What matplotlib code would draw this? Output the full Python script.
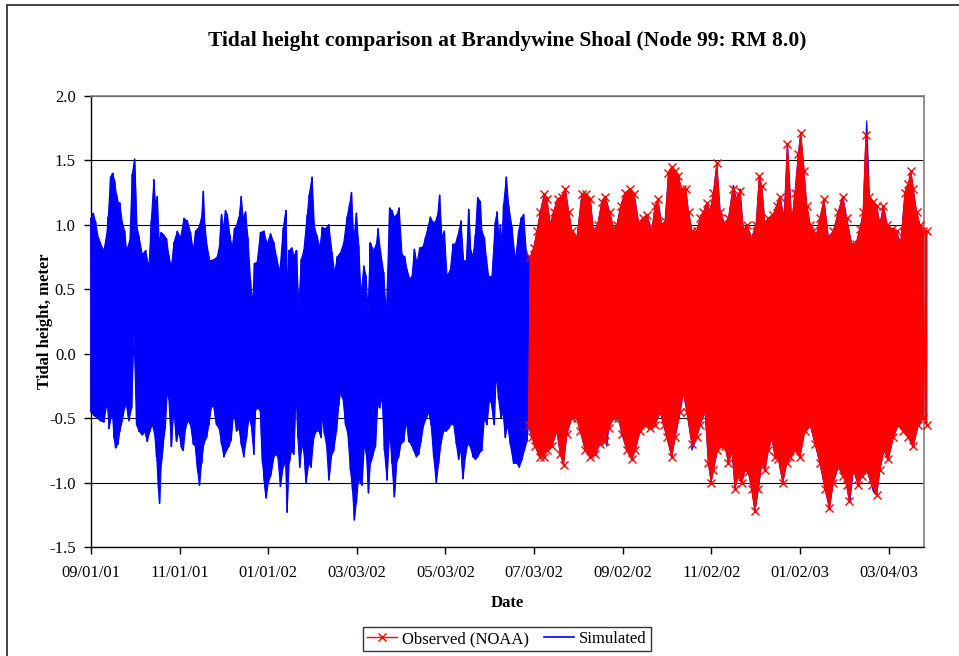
import pandas as pd
import matplotlib.pyplot as plt
from matplotlib.patches import Rectangle

plt.rcParams['font.family'] = ['Liberation Serif', 'DejaVu Serif']

start = pd.Timestamp('2001-09-01')

# simulated, 09/01/01 - end of June 2002 (day offsets from 09/01/01)
sim_high_day = [0.0, 1.6, 3.2, 5.0, 6.6, 8.9, 10.8, 11.9, 13.5, 14.9, 16.3, 17.4, 18.6, 19.9, 21.5, 23.2,
                24.5, 26.8, 28.4, 30.0, 31.4, 33.0, 35.3, 37.6, 39.9, 41.5, 43.3, 44.5, 45.6, 47.0, 48.4,
                50.2, 52.0, 53.6, 55.3, 57.1, 59.4, 61.7, 64.0, 66.3, 68.5, 70.4, 72.0, 74.3, 76.1, 77.3,
                78.4, 80.0, 81.8, 84.6, 86.9, 88.7, 89.9, 91.0, 92.6, 93.8, 95.6, 97.2, 98.8, 100.6, 102.0,
                103.4, 104.8, 106.4, 108.0, 109.8, 111.2, 112.6, 114.4, 116.7, 119.0, 121.3, 123.6, 125.9,
                127.7, 130.0, 132.3, 134.1, 135.0, 136.4, 138.2, 139.6, 141.4, 143.1, 144.7, 146.5, 148.8,
                150.2, 152.2, 153.8, 155.7, 157.5, 159.3, 161.4, 163.7, 166.0, 167.8, 169.4, 171.7, 174.0,
                176.3, 177.9, 179.3, 180.9, 182.7, 184.3, 185.9, 187.8, 189.4, 190.7, 192.3, 194.6, 196.5,
                197.6, 199.2, 201.5, 203.3, 205.6, 207.2, 208.8, 210.7, 212.1, 214.1, 216.0, 217.6, 219.4,
                221.0, 222.6, 224.4, 226.3, 228.6, 230.2, 232.0, 233.6, 235.4, 237.0, 238.7, 240.0, 241.6,
                243.2, 245.1, 247.4, 249.2, 250.8, 252.4, 254.7, 256.5, 258.4, 260.0, 261.1, 263.0, 264.6,
                266.2, 268.0, 269.1, 270.8, 272.1, 273.7, 276.0, 278.3, 279.5, 280.6, 281.8, 282.9, 284.0,
                285.9, 287.5, 289.8, 292.1, 294.4, 296.0, 297.8, 299.6, 301.2]
sim_high = [1.05, 1.09, 1.02, 0.90, 0.85, 0.80, 0.92, 1.06, 1.37, 1.40, 1.34, 1.24, 1.17, 1.17, 1.02, 0.95,
            0.80, 0.88, 1.39, 1.51, 1.00, 0.91, 0.77, 0.80, 0.67, 1.03, 1.35, 1.15, 1.22, 0.86, 0.94,
            0.92, 0.89, 0.76, 0.67, 0.86, 0.95, 0.90, 1.05, 1.03, 0.94, 0.80, 0.95, 0.98, 1.05, 1.26,
            1.00, 0.83, 0.72, 0.73, 0.75, 0.85, 1.08, 0.96, 1.11, 1.08, 0.92, 0.82, 0.97, 1.00, 1.06,
            1.22, 1.05, 1.10, 0.90, 0.57, 0.38, 0.70, 0.71, 0.94, 0.95, 0.85, 0.93, 0.86,
            0.75, 0.63, 0.97, 1.11, 0.48, 0.80, 0.82, 0.75, 0.80, 0.36, 0.73, 0.80, 1.07,
            1.23, 1.37, 0.98, 0.91, 0.82, 0.98, 0.97, 1.00, 0.78, 0.62, 0.75, 0.78, 0.86,
            1.06, 1.15, 1.25, 0.88, 1.09, 0.84, 0.45, 0.68, 0.60, 0.32, 0.86, 0.80, 0.85,
            0.97, 0.80, 0.63, 0.30, 1.13, 1.11, 1.06, 1.08, 1.13, 0.77, 0.75, 0.65, 0.58,
            0.60, 0.81, 0.70, 0.82, 0.83, 0.90, 0.98, 1.06, 1.02, 1.02, 1.08, 1.23, 0.90,
            0.95, 0.60, 0.65, 0.85, 0.85, 0.91, 1.03, 0.72, 0.72, 1.12, 0.82, 0.75, 0.92,
            1.21, 1.18, 0.95, 0.90, 0.75, 0.60, 0.60, 1.02, 1.10, 0.85, 1.00, 0.85, 1.15,
            1.37, 1.15, 0.98, 0.72, 0.95, 1.05, 1.08, 0.80, 0.75]
sim_low_day = [0.0, 2.1, 4.4, 6.6, 8.9, 11.2, 12.4, 14.7, 15.8, 17.0, 18.6, 19.9, 21.5, 23.2, 24.5, 26.1,
               28.0, 29.6, 31.4, 33.0, 35.3, 36.9, 38.7, 40.6, 42.2, 43.8, 45.2, 46.5, 47.2, 48.4, 49.7,
               51.1, 52.5, 53.6, 55.3, 56.6, 57.5, 58.9, 60.5, 62.1, 63.5, 65.1, 66.7, 68.5, 70.4, 72.0,
               73.6, 74.7, 76.1, 77.7, 79.6, 81.2, 82.8, 84.6, 86.4, 88.3, 89.9, 91.5, 93.3, 94.9, 96.5,
               98.3, 100.2, 102.0, 103.4, 105.2, 107.1, 108.7, 110.3, 112.1, 113.3, 114.9, 116.7, 118.1,
               119.0, 120.6, 122.0, 123.6, 125.4, 127.0, 128.6, 130.4, 132.3, 133.9, 135.0, 136.4, 137.8,
               139.6, 141.0, 142.4, 143.7, 145.3, 146.9, 148.1, 149.9, 151.5, 153.4, 155.2, 156.8, 158.4,
               159.6, 160.7, 162.1, 163.7, 165.3, 167.1, 169.0, 170.6, 171.7, 173.5, 175.2, 176.8, 178.6,
               180.0, 181.3, 182.7, 184.3, 185.5, 186.6, 188.2, 189.6, 191.0, 192.3, 194.2, 195.8, 197.4,
               198.8, 200.4, 202.0, 203.8, 205.6, 207.2, 208.8, 210.2, 211.8, 213.4, 215.3, 217.1, 218.7,
               220.3, 222.1, 224.0, 225.6, 227.2, 229.0, 230.9, 232.5, 234.1, 235.9, 237.7, 239.3, 240.9,
               242.8, 244.6, 246.2, 247.8, 249.7, 251.5, 253.1, 254.7, 256.1, 257.7, 259.3, 261.1, 263.0,
               264.6, 266.2, 268.0, 269.1, 270.8, 272.6, 274.4, 276.0, 277.6, 279.0, 280.6, 282.2, 283.6,
               285.2, 286.8, 288.6, 290.9, 293.2, 294.8, 296.7, 298.3, 300.1]
sim_low = [-0.45, -0.48, -0.50, -0.52, -0.53, -0.37, -0.58, -0.45, -0.65, -0.73, -0.70, -0.60, -0.52, -0.42,
           -0.38, -0.52, -0.42, 0.15, -0.55, -0.60, -0.63, -0.60, -0.68, -0.60, -0.55, -0.62, -0.80, -1.05,
           -1.16, -0.85, -0.70, -0.58, -0.30, -0.35, -0.72, -0.45, -0.45, -0.68, -0.60, -0.72, -0.75, -0.58,
           -0.52, -0.55, -0.70, -0.72, -0.92, -1.02, -0.85, -0.70, -0.65, -0.55, -0.42, -0.40, -0.55, -0.58,
           -0.70, -0.80, -0.75, -0.72, -0.67, -0.45, -0.60, -0.58, -0.70, -0.80, -0.65, -0.50, -0.55, -0.78,
           -0.44, -0.42, -0.45, -0.85, -0.95, -1.12, -1.00, -0.95, -0.82, -0.78, -0.80, -1.03, -0.88, -0.82,
           -1.23, -0.85, -0.75, -0.78, -0.25, -0.65, -0.88, -0.70, -0.78, -1.00, -0.85, -0.88, -0.65, -0.60,
           -0.60, -0.65, -0.45, -0.62, -0.70, -0.98, -0.80, -0.75, -0.60, -0.40, -0.30, -0.35, -0.55, -0.62,
           -0.90, -1.05, -1.29, -1.15, -0.95, -1.00, -1.02, -0.70, -0.78, -1.08, -0.85, -0.78, -0.72, -0.40,
           -0.42, -0.33, -0.75, -0.98, -0.60, -0.85, -1.11, -0.85, -0.80, -0.70, -0.68, -0.52, -0.68, -0.70,
           -0.75, -0.80, -0.78, -0.68, -0.55, -0.50, -0.45, -0.55, -0.80, -1.00, -0.85, -0.70, -0.60, -0.60,
           -0.58, -0.55, -0.55, -0.70, -0.82, -0.72, -0.97, -0.80, -0.70, -0.72, -0.80, -0.82, -0.80, -0.76,
           -0.75, -0.50, -0.55, -0.35, -0.40, -0.55, -0.15, -0.35, -0.50, -0.45, -0.65, -0.55, -0.70, -0.85,
           -0.85, -0.88, -0.82, -0.75, -0.68]

# observed (NOAA), from end of June 2002
obs_high_day = [302.4, 304.7, 307.0, 309.3, 312.0, 313.9, 316.1, 318.4, 321.2, 324.2, 326.5, 328.8, 331.0,
                334.5, 337.9, 340.9, 343.7, 345.9, 348.7, 351.7, 354.0, 357.0, 359.7, 362.0, 364.7, 367.7,
                371.2, 373.9, 376.9, 380.3, 382.6, 386.1, 388.4, 390.2, 392.9, 395.2, 397.5, 399.8, 402.1,
                404.4, 406.7, 409.4, 411.3, 413.6, 417.0, 419.3, 421.6, 423.9, 426.2, 428.5, 430.8, 433.1,
                436.5, 438.8, 441.8, 444.1, 446.8, 449.1, 451.4, 454.8, 457.8, 460.1, 461.7, 464.0, 466.3,
                469.7, 472.0, 474.3, 477.1, 479.4, 482.4, 484.6, 486.9, 488.5, 490.8, 492.7, 495.0, 497.3,
                499.5, 501.8, 504.6, 507.6, 511.0, 514.4, 517.4, 520.2, 523.6, 526.6, 529.3, 531.6, 533.5,
                535.8, 538.5, 540.8, 543.1, 545.4, 548.1, 551.1, 554.6, 557.3, 560.3, 562.6, 564.2, 566.0,
                568.3, 570.6, 572.9, 575.2]
obs_high = [0.75, 0.82, 0.95, 1.10, 1.24, 1.20, 1.00, 1.10, 1.20, 1.22, 1.28, 1.10, 0.95,
            0.90, 1.24, 1.24, 1.20, 0.95, 1.00, 1.18, 1.22, 1.10, 0.97, 1.00, 1.15, 1.25,
            1.28, 1.24, 1.02, 1.05, 1.08, 0.95, 1.15, 1.20, 1.00, 1.03, 1.40, 1.45, 1.42,
            1.38, 1.28, 1.28, 1.10, 0.95, 0.95, 1.05, 1.10, 1.17, 1.10, 1.25, 1.48, 1.10,
            1.00, 1.05, 1.28, 1.20, 1.26, 0.95, 1.00, 0.90, 1.00, 1.38, 1.30, 1.00, 1.05,
            1.08, 1.15, 1.22, 1.05, 1.63, 1.00, 1.25, 1.55, 1.71, 1.42, 1.15, 1.00, 0.95,
            0.92, 1.05, 1.20, 0.90, 0.95, 1.10, 1.22, 1.05, 0.85, 0.85, 0.97, 1.10, 1.70,
            1.22, 1.18, 1.15, 1.00, 1.15, 1.00, 0.97, 0.95, 0.85, 1.25, 1.32, 1.42, 1.28,
            1.10, 1.00, 0.95, 0.95]
obs_low_day = [301.2, 303.5, 305.8, 308.8, 311.6, 313.9, 317.3, 320.7, 323.0, 325.3, 327.6, 331.0, 334.5,
               336.8, 340.2, 343.7, 347.1, 350.5, 354.0, 356.3, 359.7, 363.1, 365.4, 368.9, 372.3, 374.6,
               378.0, 381.5, 384.9, 388.4, 391.8, 394.1, 396.4, 399.8, 402.1, 405.6, 407.8, 410.1, 413.6,
               417.0, 419.3, 422.7, 425.0, 426.9, 428.5, 431.2, 433.5, 436.5, 438.8, 441.1, 443.4, 445.7,
               448.0, 450.3, 452.5, 454.8, 457.1, 459.4, 461.7, 464.0, 466.3, 468.6, 470.9, 473.2, 476.2,
               478.9, 481.2, 484.6, 488.1, 491.5, 495.0, 498.4, 501.8, 505.3, 508.3, 511.0, 514.4, 517.9,
               520.2, 522.0, 524.8, 528.2, 530.5, 533.9, 537.4, 540.8, 543.1, 545.9, 548.8, 552.3, 555.7,
               559.1, 562.6, 566.0, 569.5, 572.9, 575.2]
obs_low = [-0.55, -0.65, -0.72, -0.80, -0.80, -0.75, -0.72, -0.60, -0.78, -0.86, -0.62, -0.50, -0.50,
           -0.60, -0.75, -0.80, -0.78, -0.70, -0.68, -0.58, -0.50, -0.50, -0.62, -0.75, -0.82, -0.75,
           -0.60, -0.55, -0.58, -0.55, -0.45, -0.55, -0.65, -0.80, -0.65, -0.45, -0.30, -0.45, -0.70,
           -0.65, -0.55, -0.45, -0.85, -1.00, -0.90, -0.75, -0.72, -0.72, -0.85, -0.75, -1.05, -0.95,
           -1.00, -0.90, -0.92, -1.05, -1.22, -1.05, -0.85, -0.90, -0.75, -0.65, -0.80, -0.82, -1.00,
           -0.85, -0.80, -0.75, -0.80, -0.60, -0.55, -0.70, -0.85, -1.05, -1.20, -1.00, -0.88, -0.95,
           -1.02, -1.14, -0.90, -1.02, -0.95, -0.90, -1.02, -1.10, -0.90, -0.75, -0.82, -0.65, -0.55,
           -0.60, -0.65, -0.72, -0.55, -0.50, -0.55]

# simulated highs / lows that stick out of the observed band after July 2002
sim_spike_high_day = [312.7, 339.0, 389.5, 405.6, 423.9, 430.8, 442.2, 446.8, 460.6, 480.1, 488.0,
                      504.6, 517.9, 534.0, 563.8]
sim_spike_high = [1.19, 1.22, 1.12, 1.25, 1.17, 1.48, 1.31, 1.28, 1.32, 1.50, 1.66, 1.18, 1.20, 1.81, 1.37]
sim_spike_low_day = [325.3, 355.1, 413.6, 443.4, 490.4, 522.5, 538.5]
sim_spike_low = [-0.85, -0.72, -0.75, -1.01, -0.65, -1.14, -1.07]

tick_labels = ['09/01/01', '11/01/01', '01/01/02', '03/03/02', '05/03/02', '07/03/02',
               '09/02/02', '11/02/02', '01/02/03', '03/04/03']


def series(day_lists, val_lists):
    df = pd.DataFrame({'day': sum(day_lists, []), 'v': sum(val_lists, [])})
    df = df.sort_values('day', kind='stable')
    return start + pd.to_timedelta(df['day'].values, unit='D'), df['v'].values


def band(hx, hy, lx, ly):
    # outline: high waters forward, low waters back
    return hx.append(lx[::-1]), list(hy) + list(ly[::-1])


hi_x, hi_y = series([sim_high_day, obs_high_day, sim_spike_high_day], [sim_high, obs_high, sim_spike_high])
lo_x, lo_y = series([sim_low_day, obs_low_day, sim_spike_low_day], [sim_low, obs_low, sim_spike_low])
sim_band_x, sim_band_y = band(hi_x, hi_y, lo_x, lo_y)

ohi_x, ohi_y = series([obs_high_day], [obs_high])
olo_x, olo_y = series([obs_low_day], [obs_low])
obs_band_x, obs_band_y = band(ohi_x, ohi_y, olo_x, olo_y)

sim_x, sim_y = series([sim_high_day, sim_low_day], [sim_high, sim_low])
obs_x, obs_y = series([obs_high_day, obs_low_day], [obs_high, obs_low])

fig = plt.figure(figsize=(9.59, 6.56), dpi=100)
fig.patches.append(Rectangle((7 / 959, -0.1), 1.1, 651 / 656 + 0.1, transform=fig.transFigure,
                             fill=False, edgecolor='#222222', linewidth=1.2))
ax = fig.add_axes([91 / 959, 1 - 547 / 656, 833 / 959, 451 / 656])

ax.fill(sim_band_x, sim_band_y, facecolor='#0000ff', edgecolor='#0000ff', linewidth=0.8, clip_on=False, zorder=2)
ax.fill(obs_band_x, obs_band_y, facecolor='#ff0000', edgecolor='#ff0000', linewidth=0.6, clip_on=False, zorder=2.5)
ax.plot(sim_x, sim_y, color='#0000ff', linewidth=1.2, clip_on=False, label='Simulated', zorder=3)
ax.plot(obs_x, obs_y, color='#ff0000', linewidth=1.0, marker='x', markersize=6, markeredgewidth=1.0,
        clip_on=False, label='Observed (NOAA)', zorder=4)

ax.set_xlim(start, start + pd.Timedelta(days=573.4))
ax.set_ylim(-1.5, 2.0)
yt = [-1.5, -1.0, -0.5, 0.0, 0.5, 1.0, 1.5, 2.0]
ax.set_yticks(yt)
ax.set_yticklabels(['%.1f' % v for v in yt])
ax.set_xticks(pd.to_datetime(tick_labels, format='%m/%d/%y'))
ax.set_xticklabels(tick_labels)
ax.tick_params(labelsize=12, direction='out', length=5, width=1, colors='black')
ax.tick_params(axis='x', pad=8)
ax.tick_params(axis='y', pad=6)
ax.grid(axis='y', color='black', linewidth=0.8)
ax.set_axisbelow(True)
for s in ['top', 'right']:
    ax.spines[s].set_color('#808080')
    ax.spines[s].set_linewidth(1.2)
for s in ['left', 'bottom']:
    ax.spines[s].set_color('black')
    ax.spines[s].set_linewidth(1.0)

ax.set_title('Tidal height comparison at Brandywine Shoal (Node 99: RM 8.0)',
             fontsize=15.5, fontweight='bold', pad=36)
ax.set_xlabel('Date', fontsize=12, fontweight='bold', labelpad=10)
ax.set_ylabel('Tidal height, meter', fontsize=12, fontweight='bold', labelpad=-3)

leg = ax.legend(handles=ax.get_lines()[::-1], loc='center', bbox_to_anchor=(507 / 959, 1 - 639 / 656),
                bbox_transform=fig.transFigure, ncol=2, fontsize=12, frameon=True, fancybox=False,
                numpoints=1, handlelength=1.8, handletextpad=0.3, columnspacing=0.9, borderpad=0.25)
leg.get_frame().set_edgecolor('black')
leg.get_frame().set_linewidth(1.0)

fig.savefig('out.png', dpi=100)
